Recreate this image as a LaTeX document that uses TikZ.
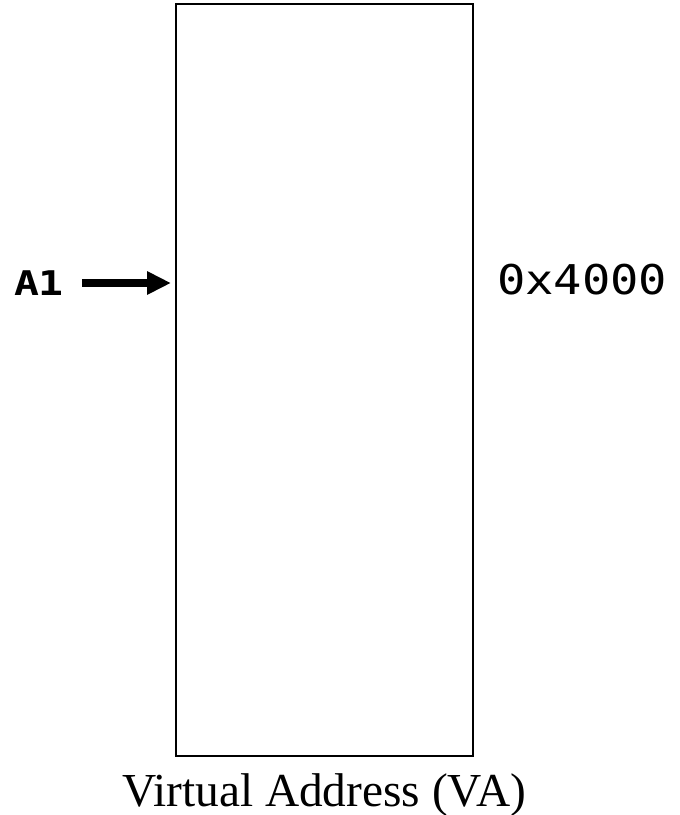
\documentclass[tikz,border=0pt]{standalone}
\usepackage{fontspec}
\setmainfont{Liberation Serif}
\newfontfamily\vamono{DejaVu Sans Mono}
\usetikzlibrary{arrows.meta}
\begin{document}
\begin{tikzpicture}[x=0.75pt,y=-0.75pt,
  membox/.style={draw=black, line width=1.5pt, minimum width=222.75pt, minimum height=564pt, inner sep=0pt},
  lbl/.style={inner sep=0pt, outer sep=0pt},
  ptr/.style={-{Triangle[length=18pt,width=16.5pt]}, line width=6pt}
]
\useasboundingbox (0,0) rectangle (680,815);
\node[membox] (mem) at (324.5,380) {};
\node[lbl, anchor=base west] (a1) at (14,295) {\scalebox{1.22}[1]{\vamono\bfseries\fontsize{25.5}{30}\selectfont A1}};
\node[lbl, anchor=base west] (addr) at (497,294) {\scalebox{1.15}[1]{\vamono\fontsize{30.75}{36}\selectfont 0x4000}};
\node[lbl, anchor=base] (cap) at (324,806) {\fontsize{35.5}{40}\selectfont Virtual Address (VA)};
\coordinate (start) at (82,283);
\draw[ptr, shorten >=3pt] (start) -- (start -| mem.west);
\end{tikzpicture}
\end{document}
